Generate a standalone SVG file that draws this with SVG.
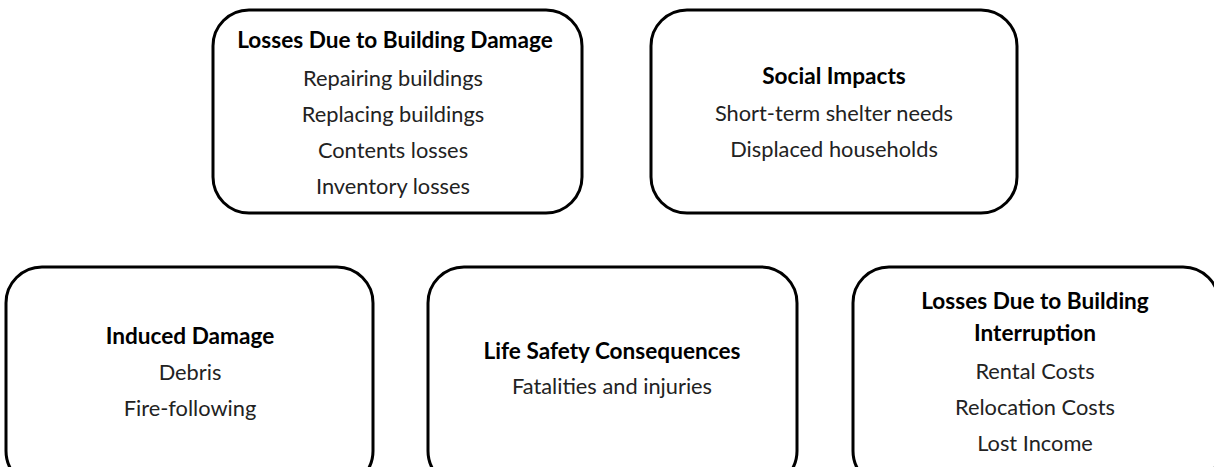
<svg xmlns="http://www.w3.org/2000/svg" width="1214" height="467" viewBox="0 0 1214 467">
<style>
.box{fill:#fff;stroke:#000;stroke-width:3}
text{font-family:Lato,"Open Sans","Liberation Sans",sans-serif;font-size:21.8px;fill:#222;text-anchor:middle}
.t{font-weight:bold;font-size:22.6px;fill:#000}
</style>
<rect width="1214" height="467" fill="#fff"/>
<g id="connectors"></g>
<g id="building-damage">
<rect class="box" x="213" y="10" width="369" height="203" rx="36"/>
<text class="t" x="395" y="48">Losses Due to Building Damage</text>
<text x="393" y="86">Repairing buildings</text>
<text x="393" y="122">Replacing buildings</text>
<text x="393" y="158">Contents losses</text>
<text x="393" y="194">Inventory losses</text>
</g>
<g id="social-impacts">
<rect class="box" x="651" y="10" width="366" height="203" rx="36"/>
<text class="t" x="834" y="84">Social Impacts</text>
<text x="834" y="121">Short-term shelter needs</text>
<text x="834" y="157">Displaced households</text>
</g>
<g id="induced-damage">
<rect class="box" x="6" y="267" width="367" height="220" rx="36"/>
<text class="t" x="190" y="344">Induced Damage</text>
<text x="190" y="380">Debris</text>
<text x="190" y="416">Fire-following</text>
</g>
<g id="life-safety">
<rect class="box" x="428" y="267" width="369" height="220" rx="36"/>
<text class="t" x="612" y="359">Life Safety Consequences</text>
<text x="612" y="394">Fatalities and injuries</text>
</g>
<g id="building-interruption">
<rect class="box" x="853" y="267" width="366" height="220" rx="36"/>
<text class="t" x="1035" y="309">Losses Due to Building</text>
<text class="t" x="1035" y="341">Interruption</text>
<text x="1035" y="379">Rental Costs</text>
<text x="1035" y="415">Relocation Costs</text>
<text x="1035" y="451">Lost Income</text>
</g>
</svg>
